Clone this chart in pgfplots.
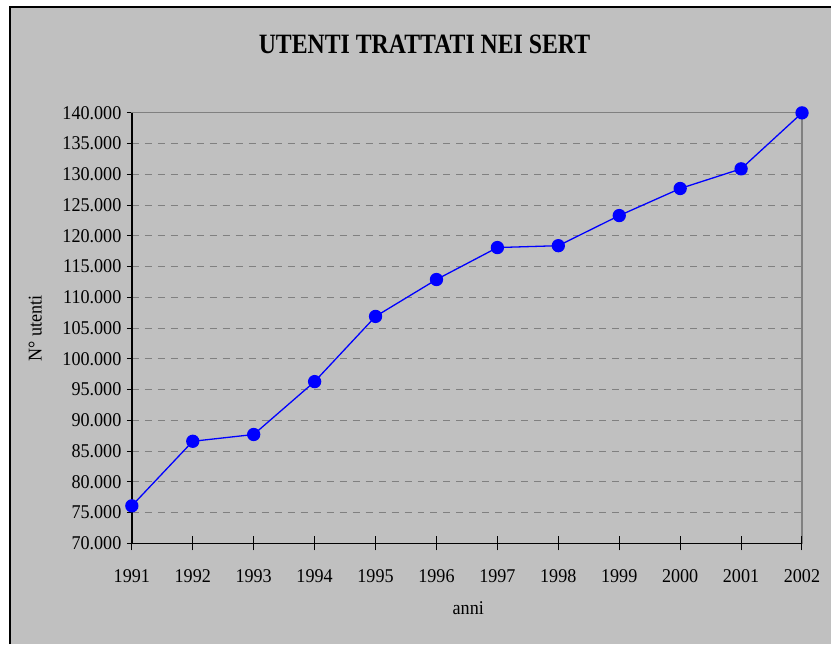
\documentclass[border=0pt]{standalone}
\usepackage{pgfplots}
\pgfplotsset{compat=1.18}
\usepackage{fontspec}
\setmainfont{Liberation Serif}[FakeStretch=0.93]
\newfontfamily\titlefont{Liberation Serif}[FakeStretch=0.85]
\definecolor{bgc}{HTML}{C0C0C0}
\definecolor{gridc}{HTML}{808080}
\pgfplotstableread{
year value
1991 76100
1992 86600
1993 87700
1994 96300
1995 106900
1996 112900
1997 118100
1998 118400
1999 123300
2000 127700
2001 130900
2002 140000
}\datatable
\begin{document}
\begin{tikzpicture}[x=1pt,y=1pt]
\fill[white] (0,0) rectangle (832,645);
\fill[bgc] (10,0) rectangle (832,637.5);
\draw[black, line width=2pt] (10,0) -- (10,637.5) -- (832,637.5);
\begin{axis}[
  at={(132pt,101pt)}, anchor=south west,
  scale only axis, width=671pt, height=431pt,
  xmin=1991, xmax=2002, ymin=70000, ymax=140000,
  xtick={1991,1992,...,2002},
  ytick={70000,75000,...,140000},
  clip=false,
  axis line style={gridc, line width=1.2pt},
  xtick pos=bottom, ytick pos=left,
  major tick length=5pt,
  tick align=outside,
  xtick style={draw=none},
  ytick style={black, line width=1pt},
  ymajorgrids,
  major grid style={gridc, dash pattern=on 7pt off 6pt, line width=0.9pt},
  font=\fontsize{19.5}{22}\selectfont,
  /pgf/number format/assume math mode=true,
  xticklabel style={/pgf/number format/set thousands separator={}, anchor=center, yshift=-27.5pt},
  yticklabel style={/pgf/number format/.cd, fixed, set thousands separator={.}, /tikz/.cd, anchor=east, xshift=-2pt},
  scaled y ticks=false,
  title={\titlefont\bfseries UTENTI TRATTATI NEI SERT},
  title style={font=\fontsize{28}{30}\selectfont, at={(axis description cs:0.4367,1.145)}, anchor=center},
  xlabel={anni},
  xlabel style={at={(axis description cs:0.502,-0.1515)}, anchor=center},
  ylabel={N° utenti},
  ylabel style={at={(axis description cs:-0.144,0.4988)}, anchor=center},
]
\draw[black, line width=1.6pt] (rel axis cs:0,1) -- (rel axis cs:0,0) -- (rel axis cs:1,0);
\addplot[color=blue, line width=1.3pt, mark=*, mark size=6pt, mark options={fill=blue, draw=blue}] table[x=year, y=value] {\datatable};
\end{axis}
\begin{axis}[
  at={(132pt,101pt)}, anchor=south west,
  scale only axis, width=671pt, height=431pt,
  xmin=1991, xmax=2002, ymin=70000, ymax=140000,
  hide y axis,
  axis line style={draw=none},
  xtick={1991,1992,...,2002},
  xticklabels={},
  xtick pos=bottom,
  tick align=center,
  major tick length=14pt,
  xtick style={black, line width=1pt},
]
\end{axis}
\end{tikzpicture}
\end{document}
